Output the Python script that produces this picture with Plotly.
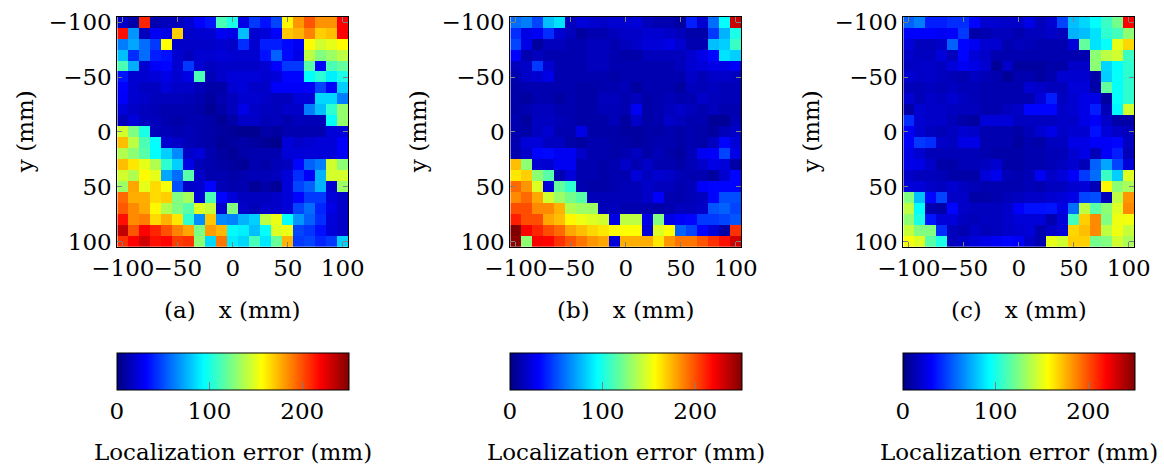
import plotly.graph_objects as go

# ---------------- data ----------------
coords = list(range(-100, 101, 10))          # x and y grid (mm)
axis_ticks = [-100, -50, 0, 50, 100]
cbar_ticks = [0, 100, 200]
panel_labels = ["(a)", "(b)", "(c)"]
cbar_title = "Localization error (mm)"

# rows: y = -100 ... 100 ; columns: x = -100 ... 100  (localization error, mm)
err_a = [
    [18, 10, 210, 12, 15, 15, 20, 31, 36, 112, 100, 25, 45, 35, 48, 158, 182, 198, 183, 183, 219],
    [215, 68, 15, 28, 25, 168, 18, 20, 20, 28, 25, 78, 20, 22, 31, 170, 175, 187, 168, 172, 219],
    [62, 72, 58, 45, 156, 18, 18, 18, 18, 20, 18, 42, 20, 38, 38, 33, 28, 157, 145, 150, 157],
    [78, 42, 58, 38, 35, 20, 15, 20, 20, 22, 20, 20, 20, 35, 55, 33, 25, 140, 125, 132, 140],
    [112, 74, 20, 30, 32, 20, 45, 20, 16, 18, 18, 18, 18, 20, 31, 45, 45, 115, 31, 112, 118],
    [36, 20, 20, 22, 25, 20, 25, 112, 14, 18, 22, 22, 22, 20, 22, 32, 32, 94, 104, 90, 100],
    [31, 20, 16, 16, 22, 18, 18, 14, 10, 10, 20, 22, 18, 18, 30, 30, 30, 30, 48, 31, 82],
    [30, 20, 18, 15, 15, 15, 14, 12, 8, 12, 15, 20, 20, 18, 15, 15, 22, 22, 84, 84, 62],
    [22, 18, 15, 14, 12, 12, 12, 10, 6, 10, 15, 25, 18, 16, 15, 18, 18, 62, 78, 105, 130],
    [15, 22, 16, 15, 12, 10, 12, 12, 10, 6, 10, 18, 18, 14, 15, 12, 15, 14, 14, 94, 130],
    [145, 125, 100, 15, 14, 12, 14, 12, 10, 8, 6, 4, 4, 10, 8, 12, 12, 12, 12, 22, 22],
    [172, 140, 112, 94, 20, 18, 14, 12, 10, 6, 8, 10, 8, 6, 4, 22, 18, 20, 22, 22, 30],
    [137, 128, 115, 94, 82, 65, 18, 22, 12, 8, 6, 10, 12, 12, 12, 22, 22, 22, 22, 22, 30],
    [172, 162, 150, 137, 105, 82, 25, 14, 12, 10, 8, 6, 12, 10, 14, 15, 32, 55, 62, 145, 128],
    [145, 137, 157, 150, 72, 58, 115, 18, 12, 12, 10, 12, 14, 14, 15, 22, 42, 30, 75, 146, 146],
    [132, 178, 150, 165, 154, 50, 18, 20, 32, 14, 12, 12, 6, 10, 6, 22, 48, 55, 75, 20, 132],
    [193, 176, 176, 165, 168, 125, 134, 22, 112, 32, 22, 16, 16, 16, 18, 22, 32, 45, 45, 22, 18],
    [197, 185, 177, 158, 137, 125, 115, 148, 142, 20, 125, 18, 14, 18, 18, 22, 48, 58, 40, 25, 18],
    [215, 185, 188, 165, 175, 162, 105, 66, 170, 65, 63, 75, 82, 140, 151, 94, 68, 55, 42, 22, 18],
    [234, 198, 219, 210, 199, 187, 178, 124, 180, 174, 93, 90, 78, 94, 148, 151, 48, 44, 35, 22, 18],
    [207, 219, 230, 215, 218, 204, 207, 128, 84, 190, 89, 84, 111, 88, 119, 175, 45, 48, 40, 45, 82],
]

err_b = [
    [58, 62, 48, 78, 87, 15, 22, 20, 18, 20, 20, 22, 15, 12, 12, 8, 38, 20, 58, 94, 232],
    [42, 25, 28, 42, 20, 15, 8, 12, 12, 15, 18, 18, 20, 20, 18, 15, 10, 10, 45, 75, 100],
    [48, 25, 8, 15, 15, 12, 12, 15, 15, 12, 15, 18, 22, 22, 25, 20, 12, 12, 78, 82, 108],
    [31, 12, 15, 12, 12, 12, 12, 15, 15, 12, 10, 10, 15, 15, 15, 15, 20, 25, 32, 87, 82],
    [15, 18, 45, 20, 12, 12, 12, 15, 15, 12, 12, 12, 12, 12, 12, 15, 20, 22, 25, 25, 30],
    [12, 18, 20, 25, 12, 12, 12, 12, 12, 10, 12, 12, 12, 12, 12, 12, 18, 14, 18, 18, 16],
    [10, 12, 12, 12, 12, 12, 10, 10, 12, 12, 14, 8, 12, 12, 12, 8, 16, 14, 16, 14, 14],
    [10, 8, 12, 12, 8, 12, 10, 10, 15, 15, 12, 15, 10, 12, 14, 12, 12, 18, 15, 14, 14],
    [10, 12, 15, 15, 12, 12, 10, 10, 14, 14, 12, 28, 10, 12, 15, 18, 15, 12, 15, 12, 12],
    [12, 8, 16, 16, 14, 12, 10, 10, 10, 14, 8, 18, 10, 12, 18, 15, 12, 12, 6, 6, 14],
    [12, 10, 16, 20, 12, 12, 25, 10, 10, 10, 8, 8, 10, 10, 12, 10, 12, 10, 8, 14, 18],
    [12, 22, 22, 16, 16, 10, 8, 12, 12, 10, 10, 8, 10, 12, 12, 10, 12, 10, 16, 32, 22],
    [12, 18, 32, 33, 28, 28, 18, 12, 12, 10, 12, 16, 10, 14, 10, 8, 14, 28, 30, 48, 25],
    [172, 128, 20, 20, 28, 28, 12, 12, 10, 12, 18, 12, 18, 12, 12, 10, 14, 18, 25, 22, 10],
    [162, 168, 128, 115, 12, 22, 12, 12, 10, 12, 12, 22, 16, 20, 18, 14, 12, 12, 8, 20, 32],
    [193, 182, 148, 22, 118, 105, 12, 10, 10, 12, 14, 14, 18, 15, 15, 12, 14, 30, 32, 32, 32],
    [185, 193, 178, 145, 132, 122, 115, 14, 14, 14, 14, 14, 18, 30, 12, 12, 14, 16, 32, 50, 50],
    [200, 200, 185, 185, 175, 137, 132, 132, 14, 15, 12, 12, 12, 10, 12, 15, 15, 18, 52, 55, 48],
    [212, 200, 200, 178, 172, 158, 152, 148, 145, 25, 140, 140, 25, 125, 25, 30, 32, 45, 45, 48, 52],
    [250, 220, 210, 200, 193, 178, 172, 166, 162, 156, 156, 156, 22, 148, 156, 55, 48, 32, 22, 10, 207],
    [247, 128, 220, 218, 207, 198, 190, 182, 178, 22, 176, 176, 176, 162, 182, 190, 190, 198, 207, 215, 230],
]

err_c = [
    [55, 62, 38, 38, 42, 42, 32, 20, 20, 18, 18, 25, 15, 20, 48, 78, 84, 94, 108, 122, 219],
    [30, 31, 31, 28, 31, 45, 10, 12, 15, 15, 12, 15, 15, 18, 15, 75, 78, 87, 105, 110, 128],
    [22, 15, 15, 18, 55, 32, 28, 20, 20, 12, 15, 14, 12, 12, 12, 22, 118, 87, 95, 150, 166],
    [18, 16, 16, 22, 15, 32, 22, 18, 12, 12, 12, 12, 12, 12, 12, 12, 12, 128, 140, 145, 108],
    [16, 18, 18, 16, 22, 28, 25, 20, 6, 18, 8, 8, 8, 10, 10, 18, 18, 128, 84, 94, 105],
    [20, 18, 18, 16, 14, 12, 16, 14, 12, 6, 12, 12, 8, 12, 20, 20, 20, 10, 82, 95, 105],
    [14, 14, 16, 14, 16, 14, 14, 12, 12, 12, 12, 20, 18, 15, 15, 22, 22, 10, 118, 95, 105],
    [20, 14, 18, 16, 20, 16, 14, 12, 12, 12, 12, 12, 22, 38, 16, 20, 25, 25, 8, 95, 105],
    [10, 20, 18, 18, 16, 15, 15, 12, 12, 15, 18, 32, 32, 32, 18, 20, 25, 38, 14, 92, 145],
    [42, 20, 18, 18, 14, 10, 8, 22, 22, 22, 16, 16, 16, 16, 18, 18, 25, 30, 18, 10, 10],
    [30, 20, 16, 14, 16, 20, 18, 12, 12, 12, 10, 14, 20, 25, 18, 20, 20, 35, 22, 18, 15],
    [30, 45, 42, 18, 16, 25, 25, 12, 12, 12, 8, 12, 10, 16, 16, 25, 25, 30, 30, 32, 16],
    [25, 20, 14, 14, 14, 14, 14, 12, 10, 10, 10, 12, 12, 14, 14, 20, 25, 14, 30, 38, 14],
    [25, 25, 18, 10, 10, 14, 14, 16, 20, 10, 10, 12, 12, 14, 16, 20, 14, 55, 72, 48, 22],
    [18, 15, 15, 14, 10, 10, 10, 22, 26, 14, 12, 14, 28, 18, 22, 30, 45, 58, 108, 82, 148],
    [22, 22, 18, 16, 20, 16, 14, 12, 12, 12, 12, 14, 12, 16, 16, 20, 22, 14, 158, 128, 135],
    [125, 78, 32, 48, 18, 18, 10, 10, 12, 14, 16, 18, 18, 20, 22, 25, 48, 50, 15, 140, 182],
    [140, 94, 12, 10, 32, 18, 16, 16, 16, 18, 30, 35, 35, 36, 25, 58, 140, 115, 128, 148, 185],
    [128, 100, 36, 22, 22, 16, 14, 16, 16, 18, 22, 22, 22, 12, 22, 110, 168, 185, 125, 152, 153],
    [142, 125, 125, 42, 15, 12, 18, 14, 16, 18, 20, 22, 12, 18, 22, 166, 172, 185, 140, 152, 142],
    [154, 148, 115, 100, 15, 18, 22, 25, 28, 32, 30, 18, 12, 150, 145, 168, 168, 122, 125, 145, 135],
]

# ---------------- style / layout ----------------
W, H = 1164, 466
FONT = "DejaVu Serif"
FS = 23
jet = [[0.0, "#000080"], [0.125, "#0000ff"], [0.375, "#00ffff"],
       [0.625, "#ffff00"], [0.875, "#ff0000"], [1.0, "#800000"]]

plot_left = [117.3, 510.3, 903.3]
plot_w = 231.0
plot_top, plot_bot = 16.7, 247.0
cb_top, cb_thick = 353.0, 37.0

fig = go.Figure()
datasets = [err_a, err_b, err_c]
txt_font = dict(family=FONT, size=FS, color="black")

for i, (z, lab) in enumerate(zip(datasets, panel_labels)):
    sfx = "" if i == 0 else str(i + 1)
    x0 = plot_left[i] / W
    x1 = (plot_left[i] + plot_w) / W
    fig.add_trace(go.Heatmap(
        x=coords, y=coords, z=z,
        zmin=0, zmax=250, colorscale=jet,
        xaxis="x" + sfx, yaxis="y" + sfx,
        colorbar=dict(
            orientation="h",
            xref="paper", yref="paper",
            x=(plot_left[i] - 0.6) / W, xanchor="left",
            y=1 - cb_top / H, yanchor="top",
            lenmode="pixels", len=plot_w + 1.2,
            thickness=cb_thick, xpad=0, ypad=0,
            outlinecolor="black", outlinewidth=1,
            tickvals=cbar_ticks, ticks="inside", ticklen=8,
            tickcolor="#808080", tickwidth=1.3,
            tickfont=txt_font,
        ),
        hovertemplate="x=%{x}<br>y=%{y}<br>err=%{z}<extra></extra>",
    ))
    common = dict(
        tickvals=axis_ticks, ticks="inside", ticklen=5, tickangle=0,
        tickcolor="#808080", tickwidth=1.3,
        showline=True, linecolor="black", linewidth=1, mirror="ticks",
        showgrid=False, zeroline=False, automargin=False,
        tickfont=txt_font,
    )
    fig.layout["xaxis" + sfx] = dict(
        domain=[x0, x1], range=[-105, 105], anchor="y" + sfx, **common)
    fig.layout["yaxis" + sfx] = dict(
        domain=[1 - plot_bot / H, 1 - plot_top / H], range=[105, -105],
        anchor="x" + sfx, **common)

    cx = (plot_left[i] + plot_w / 2) / W
    fig.add_annotation(
        text=lab + "\u2003x (mm)", xref="paper", yref="paper",
        x=cx, y=1 - 310 / H, xanchor="center", yanchor="middle",
        showarrow=False, font=txt_font)
    fig.add_annotation(
        text="y (mm)", xref="paper", yref="paper",
        x=(plot_left[i] - 92) / W, y=1 - ((plot_top + plot_bot) / 2) / H,
        xanchor="center", yanchor="middle", textangle=-90,
        showarrow=False, font=txt_font)
    fig.add_annotation(
        text=cbar_title, xref="paper", yref="paper",
        x=cx, y=1 - 452 / H, xanchor="center", yanchor="middle",
        showarrow=False, font=txt_font)

fig.update_layout(
    width=W, height=H,
    margin=dict(l=0, r=0, t=0, b=0, autoexpand=False),
    paper_bgcolor="white", plot_bgcolor="white",
    font=txt_font,
    showlegend=False,
)

fig.write_html(
    "out.html",
    config={"displayModeBar": False},
    post_script="document.body.style.margin='0';document.body.style.overflow='hidden';",
)
